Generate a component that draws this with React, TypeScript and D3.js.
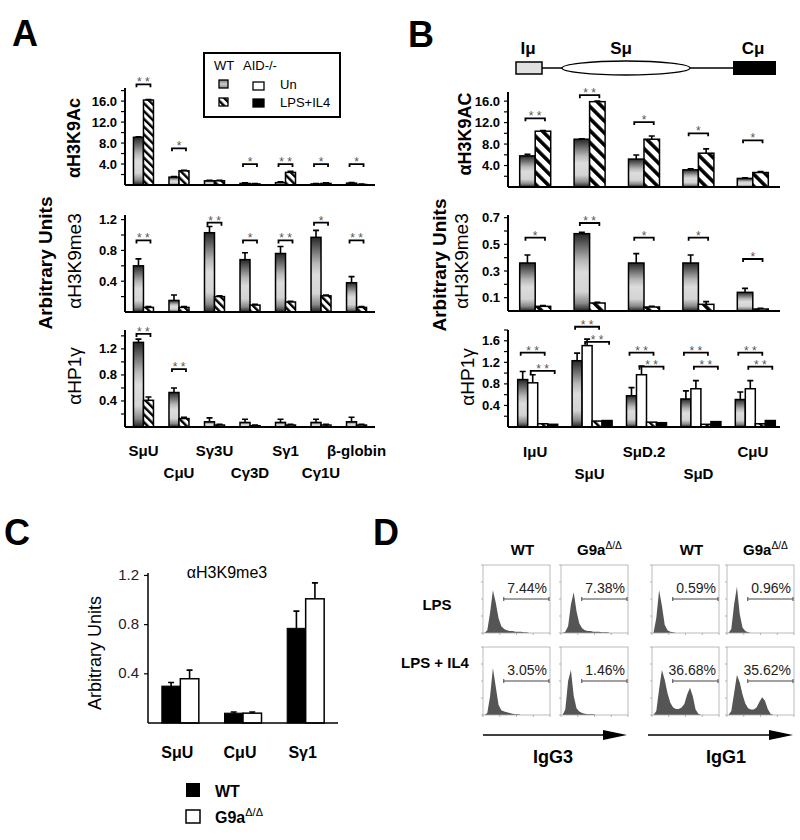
import React from "react";
import * as d3 from "d3";

const FONT = "'Liberation Sans', Arial, Helvetica, sans-serif";

// ---------- panel A ----------
const genesA = ["SμU", "CμU", "Sγ3U", "Cγ3D", "Sγ1", "Cγ1U", "β-globin"];
const aAcUn = [9.1, 1.5, 0.8, 0.3, 0.45, 0.2, 0.35];
const aAcUnErr = [9.2, 1.6, 0.9, 0.4, 0.6, 0.3, 0.45];
const aAcLps = [16.2, 2.7, 0.8, 0.2, 2.4, 0.3, 0.1];
const aAcLpsErr = [16.3, 2.8, 0.9, 0.3, 2.6, 0.4, 0.2];
const aAcStars = ["**", "*", "", "*", "**", "*", "*"];
const aAcStarLevel = [19.2, 7.0, 0, 4.0, 4.0, 4.0, 4.0];

const aMeUn = [0.6, 0.15, 1.03, 0.68, 0.76, 0.97, 0.38];
const aMeUnErr = [0.69, 0.22, 1.11, 0.77, 0.85, 1.06, 0.46];
const aMeLps = [0.06, 0.06, 0.2, 0.09, 0.13, 0.21, 0.06];
const aMeLpsErr = [0.07, 0.07, 0.21, 0.1, 0.14, 0.22, 0.07];
const aMeStars = ["**", "", "**", "*", "**", "*", "**"];
const aMeStarLevel = [0.93, 0, 1.16, 0.93, 0.93, 1.16, 0.93];

const aHpUn = [1.3, 0.53, 0.08, 0.07, 0.07, 0.07, 0.08];
const aHpUnErr = [1.35, 0.6, 0.14, 0.12, 0.12, 0.12, 0.15];
const aHpLps = [0.41, 0.13, 0.03, 0.02, 0.03, 0.03, 0.03];
const aHpLpsErr = [0.46, 0.15, 0.04, 0.03, 0.04, 0.04, 0.04];
const aHpStars = ["**", "**", "", "", "", "", ""];
const aHpStarLevel = [1.43, 0.89, 0, 0, 0, 0, 0];

const acTicks = [4, 8, 12, 16];
const aMeTicks = [0.4, 0.8, 1.2];
const aHpTicks = [0.4, 0.8, 1.2];

// ---------- panel B ----------
const genesB = ["IμU", "SμU", "SμD.2", "SμD", "CμU"];
const bAcUn = [5.8, 8.9, 5.2, 3.2, 1.6];
const bAcUnErr = [6.1, 9.0, 5.95, 3.4, 1.7];
const bAcLps = [10.4, 15.9, 8.9, 6.3, 2.7];
const bAcLpsErr = [10.5, 16.0, 9.5, 7.1, 2.9];
const bAcStars = ["**", "**", "*", "*", "*"];
const bAcStarLevel = [12.8, 17.1, 12.1, 10.0, 8.7];

const bMeUn = [0.36, 0.58, 0.36, 0.36, 0.14];
const bMeUnErr = [0.42, 0.59, 0.43, 0.42, 0.17];
const bMeLps = [0.035, 0.06, 0.03, 0.05, 0.015];
const bMeLpsErr = [0.04, 0.065, 0.035, 0.07, 0.02];
const bMeStars = ["*", "**", "*", "*", "*"];
const bMeStarLevel = [0.55, 0.66, 0.55, 0.55, 0.39];

const bHpWtUn = [0.88, 1.23, 0.58, 0.52, 0.51];
const bHpWtUnErr = [1.03, 1.37, 0.73, 0.67, 0.65];
const bHpAidUn = [0.82, 1.51, 0.97, 0.71, 0.71];
const bHpAidUnErr = [0.97, 1.63, 1.13, 0.86, 0.86];
const bHpWtLps = [0.06, 0.11, 0.09, 0.05, 0.06];
const bHpAidLps = [0.05, 0.12, 0.08, 0.1, 0.12];
const bHpStarsWt = ["**", "**", "**", "**", "**"];
const bHpStarWtLevel = [1.38, 1.86, 1.38, 1.38, 1.38];
const bHpStarsAid = ["**", "**", "**", "**", "**"];
const bHpStarAidLevel = [1.04, 1.58, 1.12, 1.12, 1.12];

const bMeTicks = [0.1, 0.3, 0.5, 0.7];
const bHpTicks = [0.4, 0.8, 1.2, 1.6];

// ---------- panel C ----------
const genesC = ["SμU", "CμU", "Sγ1"];
const cWt = [0.3, 0.08, 0.77];
const cWtErr = [0.33, 0.09, 0.91];
const cG9a = [0.36, 0.08, 1.01];
const cG9aErr = [0.43, 0.09, 1.14];
const cTicks = [0.4, 0.8, 1.2];

// ---------- panel D ----------
const dCols = ["WT", "G9a", "WT", "G9a"];
const dRows = ["LPS", "LPS + IL4"];
const dPctLps = ["7.44%", "7.38%", "0.59%", "0.96%"];
const dPctIl4 = ["3.05%", "1.46%", "36.68%", "35.62%"];
const histLps = [
  [0, 4, 30, 63, 45, 22, 10, 6, 4, 3, 3, 2, 2, 2, 1, 1, 0, 0, 0, 0, 0, 0, 0, 0],
  [0, 2, 10, 42, 60, 32, 14, 7, 4, 3, 3, 2, 2, 2, 1, 1, 1, 0, 0, 0, 0, 0, 0, 0],
  [0, 22, 63, 40, 12, 4, 2, 1, 0, 0, 0, 0, 0, 0, 0, 0, 0, 0, 0, 0, 0, 0, 0, 0],
  [0, 6, 42, 68, 28, 8, 3, 1, 0, 0, 0, 0, 0, 0, 0, 0, 0, 0, 0, 0, 0, 0, 0, 0],
];
const histIl4 = [
  [0, 3, 28, 69, 42, 15, 7, 5, 4, 3, 2, 1, 1, 0, 0, 0, 0, 0, 0, 0, 0, 0, 0, 0],
  [0, 8, 50, 66, 28, 10, 5, 3, 2, 1, 1, 1, 0, 0, 0, 0, 0, 0, 0, 0, 0, 0, 0, 0],
  [0, 6, 38, 66, 52, 32, 18, 11, 9, 9, 11, 16, 30, 40, 28, 8, 2, 0, 0, 0, 0, 0, 0, 0],
  [0, 6, 32, 59, 48, 30, 17, 10, 8, 8, 11, 19, 26, 21, 9, 2, 0, 0, 0, 0, 0, 0, 0, 0],
];

function BarPanel(p: any) {
  const {
    groups, series, left, right, base, topPx, max, pi, po, barW,
    offset = 0, ticks, minorStep, tickSize = 13, tickBold = true, sigs = [],
    labels, labelSize = 15, axisW = 2, majorOnly = false, tickGap = 8,
  } = p;
  const x = d3.scaleBand().domain(groups).range([left, right]).paddingInner(pi).paddingOuter(po);
  const y = d3.scaleLinear().domain([0, max]).range([base, topPx]);
  const n = series.length;
  const barX = (g: string, i: number) =>
    (x(g) as number) + x.bandwidth() / 2 + offset - (n * barW) / 2 + i * barW;
  const f = d3.format(".1f");
  const minor = majorOnly ? ticks : d3.range(minorStep, max + 1e-9, minorStep);
  return (
    <g>
      {series.map((s: any, si: number) =>
        groups.map((g: string, gi: number) => {
          const v = s.values[gi];
          const bx = barX(g, si);
          const cx = bx + barW / 2;
          const e = s.errs ? s.errs[gi] : v;
          return (
            <g key={`b${si}-${gi}`}>
              {e > v && (
                <path
                  d={`M${cx},${y(v)}V${y(e)}M${cx - 3},${y(e)}H${cx + 3}`}
                  stroke="#000" strokeWidth={1.6} fill="none"
                />
              )}
              <rect x={bx} y={y(v)} width={barW} height={base - y(v)} fill={s.fill}
                stroke="#000" strokeWidth={s.sw ?? 1.5} />
            </g>
          );
        })
      )}
      {sigs.map((s: any, k: number) =>
        groups.map((g: string, gi: number) => {
          if (!s.stars[gi]) return null;
          const xa = barX(g, s.a) + barW / 2 - 2;
          const xb = barX(g, s.b) + barW / 2 + 2;
          const yy = y(s.levels[gi]);
          return (
            <g key={`s${k}-${gi}`}>
              <path d={`M${xa},${yy + 3}V${yy}H${xb}V${yy + 3}`} stroke="#000" strokeWidth={1.8} fill="none" />
              <text x={(xa + xb) / 2} y={yy + 2} textAnchor="middle" fontSize={12} fill="#555">
                {s.stars[gi] === "**" ? "* *" : "*"}
              </text>
            </g>
          );
        })
      )}
      <line x1={left} x2={left} y1={base} y2={topPx} stroke="#000" strokeWidth={axisW} />
      <line x1={left} x2={right} y1={base} y2={base} stroke="#000" strokeWidth={axisW} />
      {minor.map((t: number) => (
        <line key={`m${t}`} x1={left - 4} x2={left} y1={y(t)} y2={y(t)} stroke="#000" strokeWidth={1.2} />
      ))}
      {ticks.map((t: number) => (
        <text key={`t${t}`} x={left - tickGap} y={y(t) + 4.5} textAnchor="end" fontSize={tickSize}
          fontWeight={tickBold ? "bold" : "normal"} fill={tickBold ? "#000" : "#222"}>
          {f(t)}
        </text>
      ))}
      {labels &&
        groups.map((g: string, gi: number) => (
          <text key={`l${g}`} x={(x(g) as number) + x.bandwidth() / 2 + (labels.dx || 0)}
            y={labels.alternate && gi % 2 === 1 ? labels.y2 : labels.y1}
            textAnchor="middle" fontSize={labelSize} fontWeight="bold">
            {g}
          </text>
        ))}
    </g>
  );
}

function VLabel({ x, y, text, size = 19, bold = false }: any) {
  return (
    <text transform={`translate(${x},${y}) rotate(-90)`} textAnchor="middle" fontSize={size}
      fontWeight={bold ? "bold" : "normal"}>
      {text}
    </text>
  );
}

function Hist({ x0, y0, w, h, data, pct, gateY }: any) {
  const hx = d3.scaleLinear().domain([0, data.length - 1]).range([x0 + 1.5, x0 + w - 1]);
  const hy = d3.scaleLinear().domain([0, 100]).range([y0 + h, y0]);
  const area = d3.area<number>().x((_, i) => hx(i)).y0(y0 + h).y1((d) => hy(d));
  const gx = x0 + w * 0.31;
  const ticks = d3.range(0, 5);
  return (
    <g>
      <path d={area(data) || ""} fill="#555" />
      <rect x={x0} y={y0} width={w} height={h} fill="none" stroke="#aaa" strokeWidth={0.8} />
      {ticks.map((i) => (
        <g key={i}>
          <line x1={x0 + (w * i) / 4} x2={x0 + (w * i) / 4} y1={y0 + h} y2={y0 + h + 2} stroke="#999" strokeWidth={0.7} />
          <line x1={x0 - 2} x2={x0} y1={y0 + (h * i) / 4} y2={y0 + (h * i) / 4} stroke="#999" strokeWidth={0.7} />
        </g>
      ))}
      <path d={`M${gx},${gateY - 2}V${gateY + 2}M${gx},${gateY}H${x0 + w - 1}M${x0 + w - 1},${gateY - 2}V${gateY + 2}`}
        stroke="#444" strokeWidth={1} fill="none" />
      <text x={x0 + w - 3} y={gateY - 6} textAnchor="end" fontSize={14} fill="#222">{pct}</text>
    </g>
  );
}

function G9aLabel({ x, y, size = 15 }: any) {
  return (
    <text x={x} y={y} textAnchor="middle" fontSize={size} fontWeight="bold">
      G9a<tspan dy={-6} fontSize={size * 0.68} fontWeight="normal">Δ/Δ</tspan>
    </text>
  );
}

export default function App() {
  const grad = "url(#gbar)";
  const hatchA = "url(#hatchA)";
  const hatchB = "url(#hatchB)";

  const aCommon = { groups: genesA, left: 125, right: 375, pi: 0.4, po: 0.22, barW: 10 };
  const bCommon = { groups: genesB, left: 508, right: 780, pi: 0.26, po: 0.13 };

  const colX = [483, 561, 652, 727];
  const boxW = 67;
  const rowY = [565, 647];
  const boxH = 68;

  return (
    <svg width={800} height={840} style={{ position: "absolute", left: 0, top: 0 }} fontFamily={FONT}>
      <defs>
        <linearGradient id="gbar" x1="0" y1="0" x2="0" y2="1">
          <stop offset="0" stopColor="#262626" />
          <stop offset="0.35" stopColor="#b8b8b8" />
          <stop offset="0.5" stopColor="#dcdcdc" />
          <stop offset="0.75" stopColor="#d4d4d4" />
          <stop offset="0.9" stopColor="#888" />
          <stop offset="1" stopColor="#202020" />
        </linearGradient>
        <pattern id="hatchA" patternUnits="userSpaceOnUse" width={5.5} height={5.5} patternTransform="rotate(-45)">
          <rect width={5.5} height={5.5} fill="#fff" />
          <rect width={2.4} height={5.5} fill="#000" />
        </pattern>
        <pattern id="hatchB" patternUnits="userSpaceOnUse" width={8.5} height={8.5} patternTransform="rotate(-45)">
          <rect width={8.5} height={8.5} fill="#fff" />
          <rect width={3.6} height={8.5} fill="#000" />
        </pattern>
        <linearGradient id="glegend" x1="0" y1="0" x2="0" y2="1">
          <stop offset="0" stopColor="#777" />
          <stop offset="0.5" stopColor="#ccc" />
          <stop offset="1" stopColor="#888" />
        </linearGradient>
      </defs>
      <rect width={800} height={840} fill="#fff" />

      {/* ===== Panel A ===== */}
      <text x={12} y={46} fontSize={36} fontWeight="bold">A</text>
      <g>
        <rect x={204} y={53} width={136} height={64} fill="#fff" stroke="#000" strokeWidth={2} />
        <text x={214} y={70} fontSize={13}>WT</text>
        <text x={243} y={70} fontSize={13}>AID-/-</text>
        <rect x={219} y={80} width={9} height={8} fill="url(#glegend)" stroke="#000" strokeWidth={1.3} />
        <rect x={253} y={82} width={11} height={8} fill="#fff" stroke="#000" strokeWidth={1.3} />
        <text x={280} y={89} fontSize={13}>Un</text>
        <rect x={219} y={98} width={9} height={8} fill={hatchA} stroke="#000" strokeWidth={1.3} />
        <rect x={253} y={99} width={11} height={8} fill="#000" stroke="#000" strokeWidth={1.3} />
        <text x={280} y={107} fontSize={13}>LPS+IL4</text>
      </g>
      <BarPanel {...aCommon} base={185} topPx={88} max={18.5} ticks={acTicks} minorStep={2}
        series={[{ values: aAcUn, errs: aAcUnErr, fill: grad }, { values: aAcLps, errs: aAcLpsErr, fill: hatchA }]}
        sigs={[{ a: 0, b: 1, stars: aAcStars, levels: aAcStarLevel }]} />
      <BarPanel {...aCommon} base={312} topPx={215} max={1.26} ticks={aMeTicks} minorStep={0.2}
        series={[{ values: aMeUn, errs: aMeUnErr, fill: grad }, { values: aMeLps, errs: aMeLpsErr, fill: hatchA }]}
        sigs={[{ a: 0, b: 1, stars: aMeStars, levels: aMeStarLevel }]} />
      <BarPanel {...aCommon} base={427} topPx={330} max={1.49} ticks={aHpTicks} minorStep={0.2}
        series={[{ values: aHpUn, errs: aHpUnErr, fill: grad }, { values: aHpLps, errs: aHpLpsErr, fill: hatchA }]}
        sigs={[{ a: 0, b: 1, stars: aHpStars, levels: aHpStarLevel }]}
        labels={{ y1: 456, y2: 478, alternate: true }} />
      <VLabel x={52} y={263} text="Arbitrary Units" bold size={19} />
      <VLabel x={80} y={138} text="αH3K9Ac" bold size={18} />
      <VLabel x={81} y={261} text="αH3K9me3" size={19} />
      <VLabel x={81} y={376} text="αHP1γ" size={19} />

      {/* ===== Panel B ===== */}
      <text x={408} y={47} fontSize={36} fontWeight="bold">B</text>
      <g>
        <text x={528} y={54} textAnchor="middle" fontSize={17} fontWeight="bold">Iμ</text>
        <text x={621} y={54} textAnchor="middle" fontSize={17} fontWeight="bold">Sμ</text>
        <text x={753} y={54} textAnchor="middle" fontSize={17} fontWeight="bold">Cμ</text>
        <line x1={542} x2={733} y1={68} y2={68} stroke="#000" strokeWidth={1.3} />
        <rect x={516} y={62} width={26} height={12} fill="#e0e0e0" stroke="#000" strokeWidth={1.5} />
        <ellipse cx={626} cy={68} rx={64} ry={7} fill="#fff" stroke="#000" strokeWidth={1.3} />
        <rect x={733} y={61} width={43} height={14} fill="#000" />
      </g>
      <BarPanel {...bCommon} barW={15.5} base={187} topPx={92} max={17.7} ticks={acTicks} minorStep={2}
        series={[{ values: bAcUn, errs: bAcUnErr, fill: grad }, { values: bAcLps, errs: bAcLpsErr, fill: hatchB }]}
        sigs={[{ a: 0, b: 1, stars: bAcStars, levels: bAcStarLevel }]} />
      <BarPanel {...bCommon} barW={15.5} base={311} topPx={215} max={0.72} ticks={bMeTicks} minorStep={0.1}
        series={[{ values: bMeUn, errs: bMeUnErr, fill: grad }, { values: bMeLps, errs: bMeLpsErr, fill: hatchB }]}
        sigs={[{ a: 0, b: 1, stars: bMeStars, levels: bMeStarLevel }]} />
      <BarPanel {...bCommon} barW={10} offset={2.5} base={427} topPx={330} max={1.8} ticks={bHpTicks} minorStep={0.2}
        series={[
          { values: bHpWtUn, errs: bHpWtUnErr, fill: grad },
          { values: bHpAidUn, errs: bHpAidUnErr, fill: "#fff" },
          { values: bHpWtLps, fill: hatchA },
          { values: bHpAidLps, fill: "#000" },
        ]}
        sigs={[
          { a: 0, b: 2, stars: bHpStarsWt, levels: bHpStarWtLevel },
          { a: 1, b: 3, stars: bHpStarsAid, levels: bHpStarAidLevel },
        ]}
        labels={{ y1: 457, y2: 479, alternate: true }} />
      <VLabel x={446} y={265} text="Arbitrary Units" bold size={19} />
      <VLabel x={471} y={134} text="αH3K9AC" bold size={18} />
      <VLabel x={468} y={261} text="αH3K9me3" size={19} />
      <VLabel x={474} y={377} text="αHP1γ" size={19} />

      {/* ===== Panel C ===== */}
      <text x={4} y={545} fontSize={36} fontWeight="bold">C</text>
      <text x={227} y={578} textAnchor="middle" fontSize={16}>αH3K9me3</text>
      <BarPanel groups={genesC} left={148} right={338} pi={0.4} po={0.216} barW={18.5}
        base={723} topPx={573} max={1.22} ticks={cTicks} majorOnly tickSize={15} tickBold={false} tickGap={9}
        axisW={1.5}
        series={[{ values: cWt, errs: cWtErr, fill: "#000", sw: 1 }, { values: cG9a, errs: cG9aErr, fill: "#fff", sw: 1.5 }]}
        labels={{ y1: 758, y2: 758, alternate: false, dx: -3 }} labelSize={16} />
      <VLabel x={101} y={653} text="Arbitrary Units" size={18} />
      <rect x={186} y={783} width={14} height={14} fill="#000" />
      <text x={215} y={797} fontSize={16} fontWeight="bold">WT</text>
      <rect x={186} y={810} width={14} height={13} fill="#fff" stroke="#000" strokeWidth={1.5} />
      <text x={215} y={823} fontSize={16} fontWeight="bold">
        G9a<tspan dy={-7} fontSize={11} fontWeight="normal">Δ/Δ</tspan>
      </text>

      {/* ===== Panel D ===== */}
      <text x={373} y={545} fontSize={36} fontWeight="bold">D</text>
      {dCols.map((c, i) =>
        c === "WT" ? (
          <text key={`c${i}`} x={colX[i] + boxW / 2 + 6} y={555} textAnchor="middle" fontSize={15} fontWeight="bold">WT</text>
        ) : (
          <G9aLabel key={`c${i}`} x={colX[i] + boxW / 2 + 5} y={555} />
        )
      )}
      <text x={437} y={610} textAnchor="middle" fontSize={15} fontWeight="bold">{dRows[0]}</text>
      <text x={435} y={668} textAnchor="middle" fontSize={15} fontWeight="bold">{dRows[1]}</text>
      {histLps.map((h, i) => (
        <Hist key={`h0${i}`} x0={colX[i]} y0={rowY[0]} w={boxW} h={boxH} data={h} pct={dPctLps[i]} gateY={599} />
      ))}
      {histIl4.map((h, i) => (
        <Hist key={`h1${i}`} x0={colX[i]} y0={rowY[1]} w={boxW} h={boxH} data={h} pct={dPctIl4[i]} gateY={681} />
      ))}
      <line x1={483} x2={610} y1={735} y2={735} stroke="#000" strokeWidth={1.6} />
      <path d="M603,730L627,735L603,740Z" fill="#000" />
      <line x1={648} x2={775} y1={735} y2={735} stroke="#000" strokeWidth={1.6} />
      <path d="M769,730L793,735L769,740Z" fill="#000" />
      <text x={553} y={763} textAnchor="middle" fontSize={18} fontWeight="bold">IgG3</text>
      <text x={726} y={763} textAnchor="middle" fontSize={18} fontWeight="bold">IgG1</text>
    </svg>
  );
}
